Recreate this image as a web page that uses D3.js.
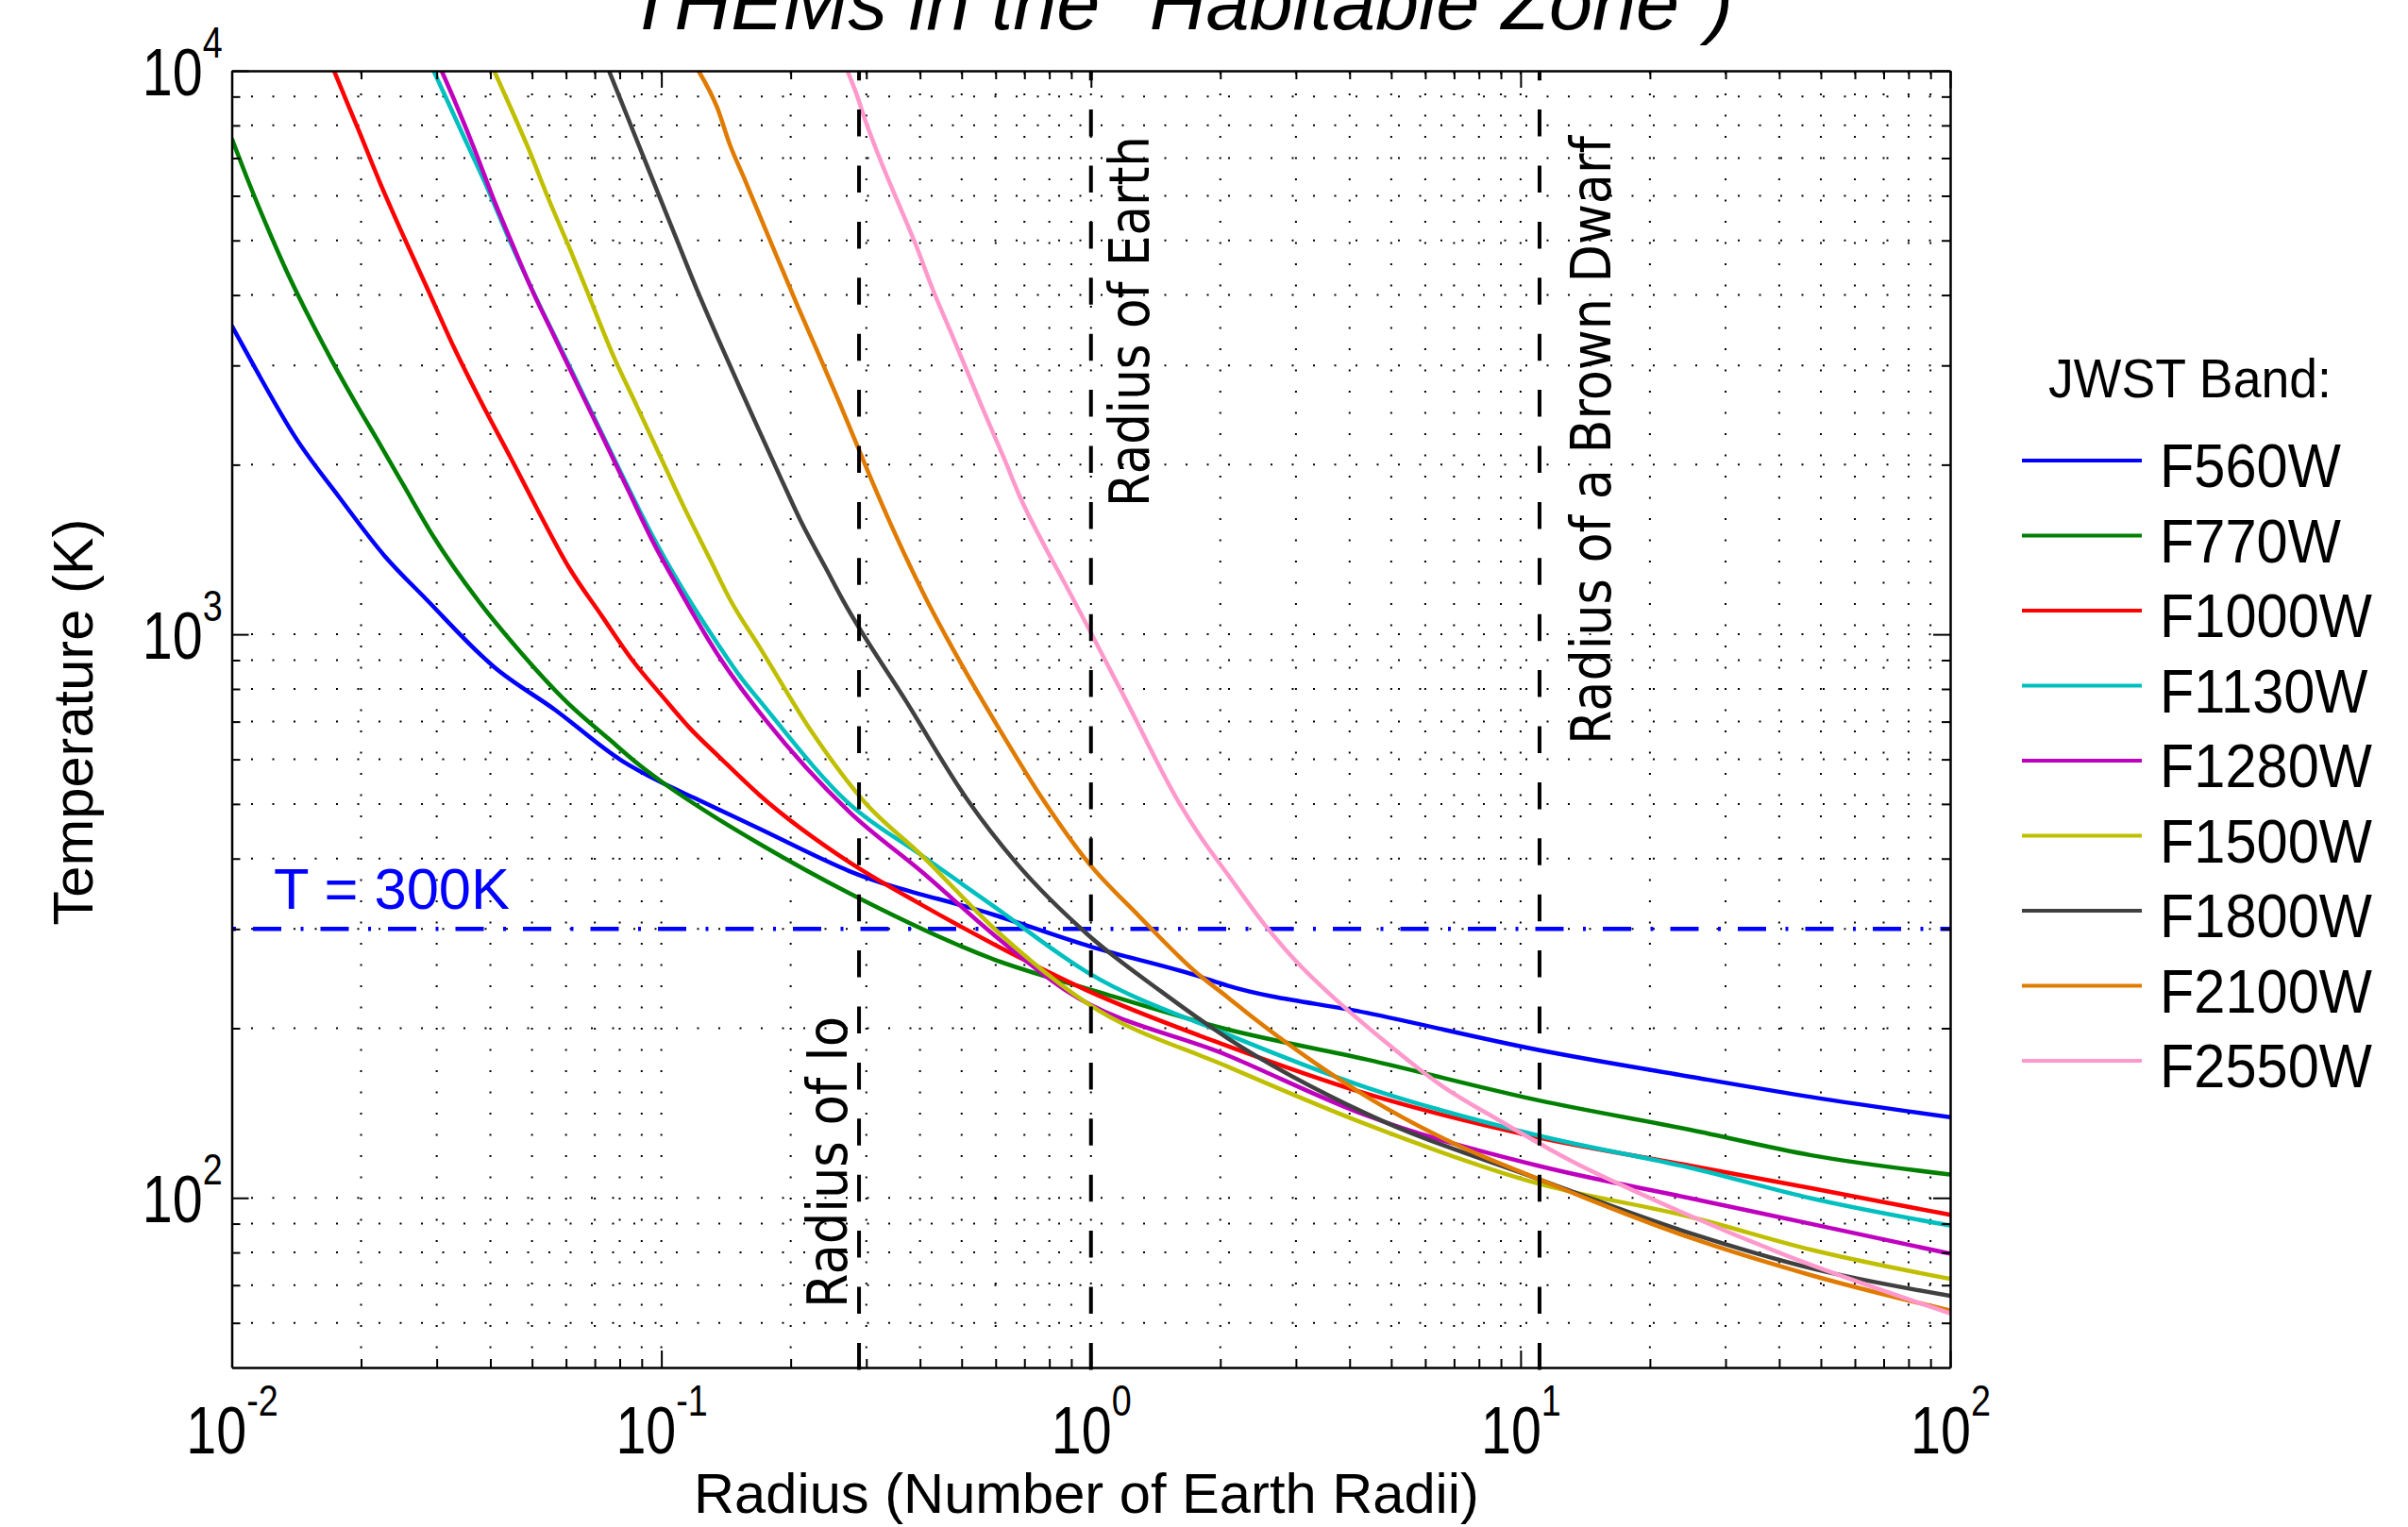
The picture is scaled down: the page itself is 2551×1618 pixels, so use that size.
<!DOCTYPE html>
<html>
<head>
<meta charset="utf-8">
<script src="https://cdn.jsdelivr.net/npm/d3@7"></script>
<style>
  body { margin: 0; background: #fff; }
  svg { display: block; }
</style>
</head>
<body>
<div id="chart"></div>
<script>
// ---- data: [radius (Earth radii), temperature (K)] ----
const bands = ["F560W", "F770W", "F1000W", "F1130W", "F1280W", "F1500W", "F1800W", "F2100W", "F2550W"];
const bandColors = ["#0000ff", "#008000", "#ff0000", "#00bfbf", "#bf00bf", "#bfbf00", "#404040", "#e07b00", "#ff99cc"];

const f560w = [[0.01,3530],[0.0113,2980],[0.0141,2230],[0.0178,1750],[0.0227,1377],[0.0284,1153],[0.0408,875],[0.0565,735],[0.0811,596],[0.099,548],[0.121,510],[0.169,452],[0.274,380],[0.594,318],[1.0,279],[1.76,248],[2.08,238],[4.38,213],[11.0,183],[24.9,164],[47.5,151],[100,139]];
const f770w = [[0.01,7590],[0.0109,6400],[0.0122,5200],[0.0134,4420],[0.0154,3560],[0.0171,3060],[0.0195,2560],[0.0217,2230],[0.0251,1840],[0.0295,1490],[0.0373,1153],[0.0455,957],[0.0608,753],[0.0755,652],[0.0887,587],[0.101,545],[0.135,471],[0.169,425],[0.274,347],[0.594,265],[1.02,233],[2.08,199],[4.38,176],[11.0,149],[24.9,132],[47.5,119],[100,110]];
const f1000w = [[0.0173,10000],[0.0181,9200],[0.0198,7800],[0.0221,6350],[0.0251,5090],[0.0284,4140],[0.0329,3230],[0.038,2590],[0.0447,2050],[0.0516,1660],[0.0608,1318],[0.0728,1076],[0.0857,899],[0.101,773],[0.116,684],[0.137,604],[0.169,519],[0.274,394],[0.404,331],[0.594,282],[0.984,233],[2.08,186],[4.38,153],[11.0,128],[24.9,114],[47.5,104],[100,93.3]];
const f1130w = [[0.0295,10000],[0.0311,9160],[0.0353,7420],[0.0394,6180],[0.0447,4930],[0.049,4230],[0.0546,3560],[0.0618,2940],[0.0702,2400],[0.0811,1914],[0.0955,1493],[0.11,1233],[0.135,964],[0.153,839],[0.169,764],[0.274,500],[0.404,405],[0.594,329],[0.984,251],[2.08,195],[4.38,157],[11.0,129],[24.9,113],[47.5,99.8],[100,89.3]];
const f1280w = [[0.0308,10000],[0.0331,8810],[0.0372,7080],[0.0403,6030],[0.0457,4790],[0.0501,4070],[0.0562,3390],[0.0631,2820],[0.0724,2270],[0.0832,1820],[0.0955,1462],[0.11,1202],[0.135,923],[0.153,804],[0.169,728],[0.274,484],[0.404,379],[0.594,293],[0.877,233],[2.08,179],[4.38,140],[11.0,114],[24.9,99.8],[47.5,89.9],[100,79.6]];
const f1500w = [[0.0408,10000],[0.0439,8830],[0.049,7290],[0.0546,5930],[0.0618,4750],[0.069,3860],[0.0769,3150],[0.0873,2560],[0.0991,2080],[0.1125,1691],[0.13,1355],[0.1445,1153],[0.169,951],[0.224,671],[0.297,504],[0.404,405],[0.594,301],[0.984,221],[2.08,171],[4.38,135],[11.0,106],[24.9,92.5],[47.5,80.9],[100,71.8]];
const f1800w = [[0.0755,10000],[0.0796,9050],[0.0873,7590],[0.0973,6180],[0.108,5070],[0.121,4090],[0.135,3370],[0.151,2780],[0.168,2320],[0.19,1888],[0.212,1578],[0.241,1314],[0.264,1153],[0.372,759],[0.52,504],[0.668,394],[0.984,293],[1.45,233],[2.08,192],[4.38,141],[11.0,108],[24.9,86.5],[47.5,75],[100,67]];
const f2100w = [[0.122,10000],[0.135,8590],[0.1445,7380],[0.156,6440],[0.168,5620],[0.187,4620],[0.208,3810],[0.232,3150],[0.259,2590],[0.283,2200],[0.31,1862],[0.346,1537],[0.385,1290],[0.414,1153],[0.457,1000],[0.603,692],[0.78,504],[0.984,394],[1.29,317],[1.76,251],[2.08,227],[2.4,208],[3.27,175],[4.46,150],[6.82,126],[11.0,108],[24.9,84.9],[47.5,72.9],[100,63.1]];
const f2550w = [[0.271,10000],[0.283,9200],[0.299,8130],[0.327,6800],[0.358,5770],[0.392,4890],[0.429,4080],[0.47,3460],[0.514,2940],[0.563,2490],[0.628,2050],[0.687,1738],[0.766,1472],[0.869,1232],[1.2,770],[1.6,504],[1.83,429],[2.06,379],[2.54,305],[3.03,261],[3.53,233],[4.81,190],[6.56,158],[8.95,137],[13.2,116],[19.4,101],[40.9,79.4],[100,62.4]];
const seriesData = [f560w, f770w, f1000w, f1130w, f1280w, f1500w, f1800w, f2100w, f2550w];

// reference lines
const refRadii = [0.2885, 1, 11.07];
const refLabels = ["Radius of Io", "Radius of Earth", "Radius of a Brown Dwarf"];
const refTemp = 300;
const refTempLabel = "T = 300K";

// axis ticks
const xMajor = [0.01, 0.1, 1, 10, 100];
const yMajor = [100, 1000, 10000];

const titleText = 'THEMs in the "Habitable Zone")';
const xLabel = "Radius (Number of Earth Radii)";
const yLabel = "Temperature (K)";
const legendTitle = "JWST Band:";

// ---- layout ----
const W = 2551, H = 1618;
const pL = 245.5, pR = 2066, pT = 75, pB = 1449;
const sans = "'Liberation Sans', Arial, Helvetica, sans-serif";
const verd = "'DejaVu Sans', Verdana, sans-serif";

const svg = d3.select("#chart").append("svg")
    .attr("width", W).attr("height", H)
    .attr("viewBox", `0 0 ${W} ${H}`);

const x = d3.scaleLog().domain([0.01, 100]).range([pL, pR]);
const y = d3.scaleLog().domain([50, 10000]).range([pB, pT]);

// minor grid / tick positions
const xGrid = [], yGrid = [];
for (let e = -2; e < 2; e++) {
    for (let m = 1; m < 10; m++) {
        const v = +(m * Math.pow(10, e)).toPrecision(3);
        if (v > 0.01) xGrid.push(v);
    }
}
for (let e = 1; e < 4; e++) {
    for (let m = 1; m < 10; m++) {
        const v = m * Math.pow(10, e);
        if (v > 50 && v < 10000) yGrid.push(v);
    }
}
const xMinor = xGrid.filter(v => !xMajor.includes(v));
const yMinor = yGrid.filter(v => !yMajor.includes(v));

svg.append("defs").append("clipPath").attr("id", "plotclip")
    .append("rect").attr("x", pL).attr("y", pT)
    .attr("width", pR - pL).attr("height", pB - pT);

// dotted grid
const grid = svg.append("g").attr("class", "grid")
    .attr("stroke", "#000").attr("stroke-width", 2)
    .attr("stroke-dasharray", "2,20.5").attr("stroke-dashoffset", 2);
grid.selectAll(".vgrid").data(xGrid).enter().append("line")
    .attr("x1", d => x(d)).attr("x2", d => x(d))
    .attr("y1", pB).attr("y2", pT);
grid.selectAll(".hgrid").data(yGrid).enter().append("line")
    .attr("x1", pL).attr("x2", pR)
    .attr("y1", d => y(d)).attr("y2", d => y(d));

// T = 300K dash-dot line
svg.append("line")
    .attr("x1", pL).attr("x2", pR)
    .attr("y1", y(refTemp)).attr("y2", y(refTemp))
    .attr("stroke", "#0000ff").attr("stroke-width", 4.5)
    .attr("stroke-dasharray", "30,20.5,3,18").attr("stroke-dashoffset", 49);

svg.append("text")
    .attr("x", 290).attr("y", 963)
    .attr("font-family", sans).attr("font-size", 62)
    .attr("fill", "#0000ff")
    .attr("textLength", 250).attr("lengthAdjust", "spacingAndGlyphs")
    .text(refTempLabel);

// curves
const line = d3.line()
    .x(d => x(d[0]))
    .y(d => y(d[1]))
    .curve(d3.curveMonotoneX);

svg.append("g").attr("clip-path", "url(#plotclip)")
    .selectAll("path").data(seriesData).enter().append("path")
    .attr("d", line)
    .attr("fill", "none")
    .attr("stroke", (d, i) => bandColors[i])
    .attr("stroke-width", 4.5)
    .attr("stroke-linejoin", "round");

// vertical dashed reference lines
svg.append("g").selectAll("line").data(refRadii).enter().append("line")
    .attr("x1", d => x(d)).attr("x2", d => x(d))
    .attr("y1", pT).attr("y2", pB + 6)
    .attr("stroke", "#000").attr("stroke-width", 4)
    .attr("stroke-dasharray", "28.5,30.9").attr("stroke-dashoffset", 18.3);

// labels of the reference lines (rotated)
const refLabelPos = [
    { bx: x(refRadii[0]) - 13, sy: 1386, len: 309 },
    { bx: x(refRadii[1]) + 61, sy: 537, len: 393 },
    { bx: x(refRadii[2]) + 75, sy: 789, len: 645 }
];
svg.append("g").selectAll("text").data(refLabels).enter().append("text")
    .attr("transform", (d, i) => `translate(${refLabelPos[i].bx},${refLabelPos[i].sy}) rotate(-90)`)
    .attr("font-family", verd).attr("font-size", 59)
    .attr("fill", "#000")
    .attr("textLength", (d, i) => refLabelPos[i].len)
    .attr("lengthAdjust", "spacingAndGlyphs")
    .text(d => d);

// ---- axes ----
function styleAxis(g, withDomain) {
    g.selectAll("path.domain").attr("stroke", withDomain ? "#000" : "none").attr("stroke-width", 2.5);
    g.selectAll(".tick line").attr("stroke", "#000").attr("stroke-width", 2);
}

function powerLabel(sel) {
    sel.each(function (d) {
        const t = d3.select(this);
        t.text("10");
        t.append("tspan")
            .attr("dy", -40)
            .attr("font-size", 46)
            .text(Math.round(Math.log10(d)));
    });
}

// bottom
const xAxisG = svg.append("g").attr("transform", `translate(0,${pB})`)
    .call(d3.axisBottom(x).tickValues(xMajor).tickSize(-18).tickSizeOuter(0));
styleAxis(xAxisG, true);
xAxisG.attr("font-family", sans).attr("font-size", 70);
xAxisG.selectAll(".tick text")
    .attr("y", 91).attr("dy", null)
    .attr("fill", "#000")
    .attr("text-anchor", "middle")
    .attr("transform", "scale(0.82,1)")
    .call(powerLabel);
styleAxis(svg.append("g").attr("transform", `translate(0,${pB})`)
    .call(d3.axisBottom(x).tickValues(xMinor).tickSize(-9).tickSizeOuter(0).tickFormat("")), false);

// top
styleAxis(svg.append("g").attr("transform", `translate(0,${pT})`)
    .call(d3.axisTop(x).tickValues(xMajor).tickSize(-18).tickSizeOuter(0).tickFormat("")), true);
styleAxis(svg.append("g").attr("transform", `translate(0,${pT})`)
    .call(d3.axisTop(x).tickValues(xMinor).tickSize(-9).tickSizeOuter(0).tickFormat("")), false);

// left
const yAxisG = svg.append("g").attr("transform", `translate(${pL},0)`)
    .call(d3.axisLeft(y).tickValues(yMajor).tickSize(-18).tickSizeOuter(0));
styleAxis(yAxisG, true);
yAxisG.attr("font-family", sans).attr("font-size", 70);
yAxisG.selectAll(".tick text")
    .attr("x", -12).attr("y", 25).attr("dy", null)
    .attr("fill", "#000")
    .attr("text-anchor", "end")
    .attr("transform", "scale(0.82,1)")
    .call(powerLabel);
styleAxis(svg.append("g").attr("transform", `translate(${pL},0)`)
    .call(d3.axisLeft(y).tickValues(yMinor).tickSize(-9).tickSizeOuter(0).tickFormat("")), false);

// right
styleAxis(svg.append("g").attr("transform", `translate(${pR},0)`)
    .call(d3.axisRight(y).tickValues(yMajor).tickSize(-18).tickSizeOuter(0).tickFormat("")), true);
styleAxis(svg.append("g").attr("transform", `translate(${pR},0)`)
    .call(d3.axisRight(y).tickValues(yMinor).tickSize(-9).tickSizeOuter(0).tickFormat("")), false);

// axis titles
svg.append("text")
    .attr("x", 1151).attr("y", 1603)
    .attr("text-anchor", "middle")
    .attr("font-family", sans).attr("font-size", 59)
    .attr("textLength", 832).attr("lengthAdjust", "spacingAndGlyphs")
    .text(xLabel);

svg.append("text")
    .attr("transform", `translate(98,765) rotate(-90)`)
    .attr("text-anchor", "middle")
    .attr("font-family", sans).attr("font-size", 59)
    .attr("textLength", 431).attr("lengthAdjust", "spacingAndGlyphs")
    .text(yLabel);

// title (its upper part is cut off by the figure edge, as in the original)
svg.append("text")
    .attr("x", 664).attr("y", 31)
    .attr("font-family", sans).attr("font-size", 82)
    .attr("font-style", "italic")
    .attr("textLength", 1172).attr("lengthAdjust", "spacingAndGlyphs")
    .text(titleText);

// ---- legend ----
const legend = svg.append("g").attr("class", "legend");
legend.append("text")
    .attr("x", 2170).attr("y", 421)
    .attr("font-family", sans).attr("font-size", 57)
    .attr("textLength", 300).attr("lengthAdjust", "spacingAndGlyphs")
    .text(legendTitle);

const legendY = d3.scaleLinear().domain([0, bands.length - 1]).range([488, 1124]);
const item = legend.selectAll(".item").data(bands).enter().append("g")
    .attr("transform", (d, i) => `translate(0,${legendY(i)})`);
item.append("line")
    .attr("x1", 2142).attr("x2", 2269)
    .attr("stroke", (d, i) => bandColors[i])
    .attr("stroke-width", 4);
item.append("text")
    .attr("x", 2288).attr("y", 28)
    .attr("font-family", sans).attr("font-size", 64)
    .text(d => d)
    .each(function () {
        const len = this.getComputedTextLength();
        d3.select(this).attr("textLength", len * 0.93).attr("lengthAdjust", "spacingAndGlyphs");
    });
</script>
</body>
</html>
